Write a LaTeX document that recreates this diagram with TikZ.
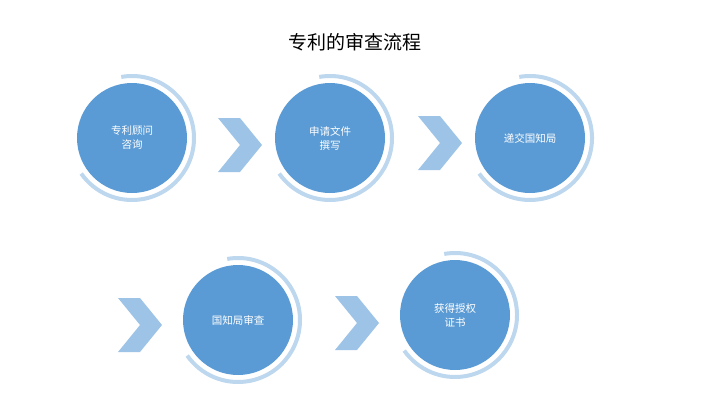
\documentclass[tikz,border=0pt]{standalone}
\usepackage{fontspec}
\newfontfamily\cjk{Noto Sans CJK SC}
\definecolor{stepblue}{HTML}{5B9BD5}
\definecolor{ringblue}{HTML}{BDD7EE}
\definecolor{arrowblue}{HTML}{9DC3E6}
\tikzset{
  stepdisc/.style={circle,fill=stepblue,minimum size=110pt,inner sep=0pt,
    text=white,align=center,font=\cjk\fontsize{10.5}{14}\selectfont},
  ring/.style={ringblue,line width=4pt},
  chev/.style={fill=arrowblue}
}
\newcommand\chevron[2]{\fill[chev] (#1,#2) -- ++(22,0) -- ++(22,27) -- ++(-22,27) -- ++(-22,0) -- ++(22,-27) -- cycle;}
\begin{document}
\begin{tikzpicture}[x=1pt,y=-1pt]
 \useasboundingbox (0,0) rectangle (711,400);
 \node (title) at (355,42) {\cjk\fontsize{19}{22}\selectfont 专利的审查流程};
 % steps
 \node[stepdisc] (s1) at (132,138) {专利顾问\\咨询};
 \node[stepdisc] (s2) at (330,138) {申请文件\\撰写};
 \node[stepdisc] (s3) at (530,138) {递交国知局};
 \node[stepdisc] (s4) at (238,320) {国知局审查};
 \node[stepdisc] (s5) at (455,315) {获得授权\\证书};
 \foreach \s in {s1,s2,s3,s4,s5}
   \draw[ring] (\s.center) ++(-100:62) arc[start angle=-100,end angle=145,radius=62];
 % arrows
 \chevron{218}{118}
 \chevron{418}{116}
 \chevron{118}{298}
 \chevron{335}{296}
\end{tikzpicture}
\end{document}
